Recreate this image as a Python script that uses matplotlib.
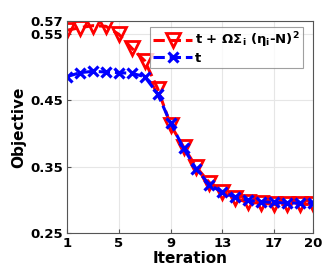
import numpy as np
import matplotlib.pyplot as plt

plt.rcParams['font.family'] = ['DejaVu Sans']
plt.rcParams['font.weight'] = 'bold'
plt.rcParams['mathtext.default'] = 'bf'

iteration = np.arange(1, 21)
penalized = [0.556, 0.560, 0.563, 0.562, 0.550, 0.529, 0.510, 0.468, 0.413, 0.380,
             0.349, 0.326, 0.311, 0.302, 0.296, 0.295, 0.293, 0.293, 0.293, 0.293]
objective = [0.486, 0.492, 0.494, 0.493, 0.492, 0.491, 0.486, 0.460, 0.416, 0.378,
             0.346, 0.323, 0.311, 0.304, 0.299, 0.297, 0.296, 0.295, 0.295, 0.295]

xticks = [1, 5, 9, 13, 17, 20]
yticks = [0.25, 0.35, 0.45, 0.55, 0.57]

fig = plt.figure(figsize=(3.27, 2.73), dpi=100)
ax = fig.add_axes([0.205, 0.147, 0.752, 0.776])

ax.plot(iteration, penalized, '--', color='red', lw=2.2, marker='v', ms=9.5,
        mfc='none', mew=2, label=r't + ΩΣ$_{i}$ ($\eta_{i}$-N)$^{2}$')
ax.plot(iteration, objective, '--', color='blue', lw=2.2, marker='x', ms=7.5,
        mew=2.3, label='t')

ax.set_xlim(1, 20)
ax.set_ylim(0.25, 0.57)
ax.set_xticks(xticks)
ax.set_yticks(yticks)
ax.set_yticklabels(['%.2f' % v for v in yticks])
ax.tick_params(labelsize=9.5, direction='in', length=3, color='#555555', pad=3)
ax.grid(True, color='#e6e6e6', lw=0.8)
ax.set_axisbelow(True)
for s in ax.spines.values():
    s.set_color('#555555')

ax.set_xlabel('Iteration', fontsize=11, fontweight='bold', labelpad=1)
ax.set_ylabel('Objective', fontsize=11, fontweight='bold', labelpad=3)

leg = ax.legend(loc='upper right', bbox_to_anchor=(0.96, 0.972), borderaxespad=0,
                fontsize=9.5, fancybox=False, edgecolor='#888888', handlelength=3.0,
                borderpad=0.25, labelspacing=0.15, handletextpad=0.2)
leg.get_frame().set_linewidth(0.8)

fig.savefig('out.png', dpi=100)
